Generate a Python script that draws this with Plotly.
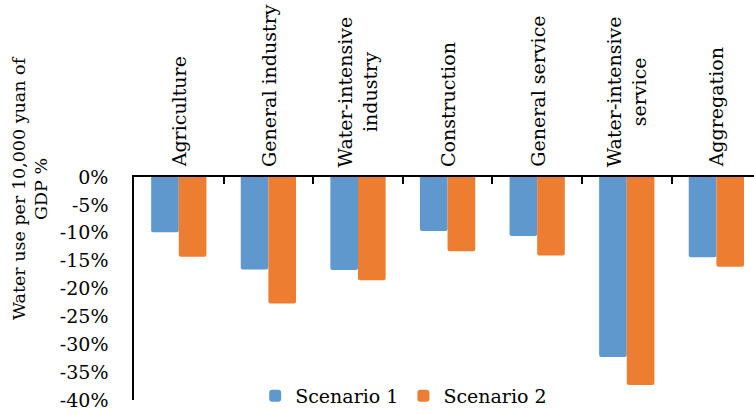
import plotly.graph_objects as go

# Sector categories and the change in water use per 10,000 yuan of GDP (%)
categories = [
    "Agriculture",
    "General industry",
    "Water-intensive<br>industry",
    "Construction",
    "General service",
    "Water-intensive<br>service",
    "Aggregation",
]
scenario_1 = [-9.9, -16.6, -16.7, -9.7, -10.6, -32.3, -14.4]
scenario_2 = [-14.3, -22.7, -18.5, -13.3, -14.1, -37.3, -16.1]

y_ticks = [0, -5, -10, -15, -20, -25, -30, -35, -40]
y_tick_text = [f"{'-' if v < 0 else ''}{abs(v)}%" for v in y_ticks]

FONT = "DejaVu Serif"
SIZE = 19
TITLE_SIZE = 17.5
BLUE = "#5F98CD"
ORANGE = "#ED7D31"

fig = go.Figure()
fig.add_trace(go.Bar(x=categories, y=scenario_1, name="Scenario 1",
                     marker=dict(color=BLUE, line=dict(width=0))))
fig.add_trace(go.Bar(x=categories, y=scenario_2, name="Scenario 2",
                     marker=dict(color=ORANGE, line=dict(width=0))))

# Category names stand above the zero line, rotated to read upwards
for cat in categories:
    fig.add_annotation(
        x=cat, xref="x", y=1, yref="paper",
        text=cat, textangle=-90, showarrow=False,
        xanchor="center", yanchor="bottom", yshift=8, align="center",
        font=dict(family=FONT, size=SIZE, color="#000000"),
    )

# Y-axis title
fig.add_annotation(
    x=-0.168, xref="paper", y=0.95, yref="paper",
    text="Water use per 10,000 yuan of<br>GDP %", textangle=-90,
    showarrow=False, xanchor="center", yanchor="middle", align="center",
    font=dict(family=FONT, size=TITLE_SIZE, color="#000000"),
)

fig.update_layout(
    width=754, height=415,
    margin=dict(l=134, r=0, t=177, b=9, pad=0),
    paper_bgcolor="white", plot_bgcolor="white",
    font=dict(family=FONT, size=SIZE, color="#000000"),
    barmode="group", bargap=0.383, bargroupgap=0,
    barcornerradius=2,
    showlegend=True,
    legend=dict(
        orientation="h", x=0.435, xanchor="center", y=0.016, yanchor="middle",
        bgcolor="rgba(0,0,0,0)", font=dict(family=FONT, size=SIZE),
        itemwidth=30, tracegroupgap=0,
    ),
)

fig.update_xaxes(
    side="top", showticklabels=False,
    range=[-0.5, 6.42],
    showline=True, linecolor="#000000", linewidth=1.5,
    ticks="inside", ticklen=7, tickcolor="#000000", tickwidth=1.5,
    tickson="boundaries", showgrid=False, zeroline=False,
)
fig.update_yaxes(
    range=[-40, 0],
    tickvals=y_ticks, ticktext=y_tick_text,
    showline=True, linecolor="#000000", linewidth=1.5,
    ticks="", ticklabelstandoff=20,
    showgrid=False, zeroline=False,
    tickfont=dict(family=FONT, size=SIZE),
)

fig.write_html("out.html")
